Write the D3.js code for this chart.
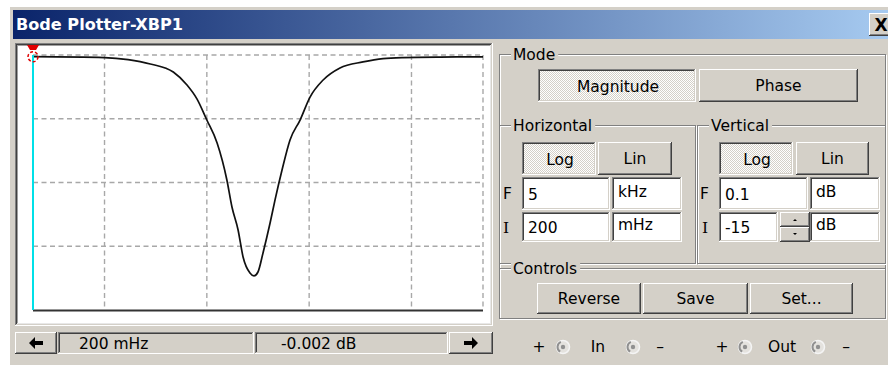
<!DOCTYPE html>
<html>
<head>
<meta charset="utf-8">
<script src="https://cdn.jsdelivr.net/npm/d3@7"></script>
<style>
  body { margin: 0; background: #fff; }
  svg text { font-family: "DejaVu Sans", sans-serif; font-size: 15.5px; fill: #000; }
</style>
</head>
<body>
<svg id="win"></svg>
<script>
var width = 888, height = 365

// magnitude response (frequency in Hz, gain in dB)
var freqHz = [0.2, 1, 1.7, 2.8, 4.7, 6.4, 8.0, 10, 12.6, 15.7, 17.6, 20.2, 22.6, 26.4, 28.9,
    31.6, 35.4, 41.5, 46.4, 54.3, 65, 81.5, 102, 137, 200, 336, 527, 828, 1905, 5000]
var magDb = [-0.002, -0.05, -0.17, -0.43, -0.91, -1.68, -2.5, -3.75, -5.11, -7.3, -8.9, -10.26, -11.86, -12.81, -12.98,
    -12.75, -11.62, -9.85, -8.48, -6.71, -4.93, -3.75, -2.39, -1.38, -0.67, -0.31, -0.11, -0.05, -0.02, -0.01]

// instrument settings shown on the panel
var hStart = 0.2, hEnd = 5000      // I = 200 mHz, F = 5 kHz
var vStart = -15, vEnd = 0.1       // I = -15 dB, F = 0.1 dB
var gridFreqs = [1, 10, 100, 1000]
var vDivs = 4
var cursorText = ["200 mHz", "-0.002 dB"]

var gray = "#d4d0c8"

var svg = d3.select("#win")
    .attr("width", width)
    .attr("height", height)

var defs = svg.append("defs")
var grad = defs.append("linearGradient").attr("id", "title")
grad.append("stop").attr("offset", "0%").attr("stop-color", "#0a246a")
grad.append("stop").attr("offset", "100%").attr("stop-color", "#a6caf0")
var pat = defs.append("pattern").attr("id", "dither")
    .attr("width", 2).attr("height", 2).attr("patternUnits", "userSpaceOnUse")
pat.append("rect").attr("width", 2).attr("height", 2).attr("fill", "#fff")
pat.append("rect").attr("width", 1).attr("height", 1).attr("fill", gray)
pat.append("rect").attr("x", 1).attr("y", 1).attr("width", 1).attr("height", 1).attr("fill", gray)

// window body + title bar
svg.append("rect").attr("x", 10).attr("y", 7).attr("width", width - 10).attr("height", height - 7).attr("fill", gray)
svg.append("rect").attr("x", 13).attr("y", 10).attr("width", width - 13).attr("height", 29).attr("fill", "url(#title)")
svg.append("text").attr("x", 16).attr("y", 25).attr("dominant-baseline", "central")
    .style("font-weight", "bold").style("font-size", "15.5px").style("fill", "#fff")
    .attr("textLength", 167).attr("lengthAdjust", "spacingAndGlyphs")
    .text("Bode Plotter-XBP1")

function edge(g, x, y, w, h, tl, br) {
    g.append("rect").attr("x", x).attr("y", y).attr("width", w).attr("height", 1).attr("fill", tl)
    g.append("rect").attr("x", x).attr("y", y).attr("width", 1).attr("height", h).attr("fill", tl)
    g.append("rect").attr("x", x).attr("y", y + h - 1).attr("width", w).attr("height", 1).attr("fill", br)
    g.append("rect").attr("x", x + w - 1).attr("y", y).attr("width", 1).attr("height", h).attr("fill", br)
}
function raised(x, y, w, h, fill) {
    var g = svg.append("g")
    g.append("rect").attr("x", x).attr("y", y).attr("width", w).attr("height", h).attr("fill", fill || gray)
    edge(g, x, y, w, h, "#fff", "#404040")
    edge(g, x + 1, y + 1, w - 2, h - 2, gray, "#808080")
    return g
}
function sunken(x, y, w, h, fill) {
    var g = svg.append("g")
    g.append("rect").attr("x", x).attr("y", y).attr("width", w).attr("height", h).attr("fill", fill || gray)
    edge(g, x, y, w, h, "#808080", "#fff")
    edge(g, x + 1, y + 1, w - 2, h - 2, "#404040", gray)
    return g
}
function button(x, y, w, h, label, pressed) {
    var g = pressed ? sunken(x, y, w, h, "url(#dither)") : raised(x, y, w, h)
    g.append("text").attr("x", x + w / 2 + (pressed ? 1 : 0)).attr("y", y + h / 2 + (pressed ? 1 : 0))
        .attr("text-anchor", "middle").attr("dominant-baseline", "central").text(label)
}
function field(x, y, w, h, label, dy) {
    var g = sunken(x, y, w, h, "#fff")
    g.append("text").attr("x", x + 6).attr("y", y + h / 2 + (dy || 0))
        .attr("dominant-baseline", "central").text(label)
}
function groupBox(x, y, w, h, label) {
    var g = svg.append("g")
    g.append("rect").attr("x", x + 1.5).attr("y", y + 1.5).attr("width", w).attr("height", h)
        .attr("fill", "none").attr("stroke", "#fff")
    g.append("rect").attr("x", x + 0.5).attr("y", y + 0.5).attr("width", w).attr("height", h)
        .attr("fill", "none").attr("stroke", "#808080")
    var bg = g.append("rect").attr("fill", gray)
    var t = g.append("text").attr("x", x + 14).attr("y", y + 1).attr("dominant-baseline", "central").text(label)
    var bb = t.node().getBBox()
    bg.attr("x", bb.x - 2).attr("y", bb.y).attr("width", bb.width + 5).attr("height", bb.height)
}

// ---- plot panel ----
var frame = sunken(15, 43, 478, 283, "#fff")
edge(frame, 17, 45, 474, 279, "#a0a0a0", "#e8e8e8")

var x = d3.scaleLog().domain([hStart, hEnd]).range([33, 483])
var y = d3.scaleLinear().domain([vStart, vEnd]).range([310, 55])

var plot = svg.append("g")
var dash = "5,3.5"
plot.selectAll(".vgrid")
    .data(gridFreqs.concat([hEnd]))
    .enter()
    .append("line")
        .attr("class", "vgrid")
        .attr("x1", d => x(d)).attr("x2", d => x(d))
        .attr("y1", y(vEnd)).attr("y2", y(vStart))
        .attr("stroke", "#a8a8a8").attr("stroke-width", 1.4).attr("stroke-dasharray", dash)
plot.selectAll(".hgrid")
    .data(d3.range(1, vDivs + 1).map(i => vStart + i * (vEnd - vStart) / vDivs))
    .enter()
    .append("line")
        .attr("class", "hgrid")
        .attr("x1", x(hStart)).attr("x2", x(hEnd))
        .attr("y1", d => y(d)).attr("y2", d => y(d))
        .attr("stroke", "#a8a8a8").attr("stroke-width", 1.4).attr("stroke-dasharray", dash)
plot.append("line")
    .attr("x1", x(hStart)).attr("x2", x(hEnd))
    .attr("y1", y(vStart) + 0.5).attr("y2", y(vStart) + 0.5)
    .attr("stroke", "#333").attr("stroke-width", 2)

var line = d3.line()
    .x((d, i) => x(freqHz[i]))
    .y(d => y(d))
    .curve(d3.curveMonotoneX)
plot.append("path")
    .datum(magDb)
    .attr("d", line)
    .attr("fill", "none")
    .attr("stroke", "#111")
    .attr("stroke-width", 1.7)

// cursor
var cx = x(hStart)
plot.append("line")
    .attr("x1", cx).attr("x2", cx).attr("y1", y(vEnd)).attr("y2", y(vStart))
    .attr("stroke", "#00e0e8").attr("stroke-width", 2)
plot.append("path")
    .attr("d", "M" + (cx - 6) + ",45 L" + (cx + 6) + ",45 L" + (cx + 3) + ",50 L" + (cx - 3) + ",50 Z")
    .attr("fill", "#e00000")
plot.append("circle")
    .attr("cx", cx).attr("cy", y(magDb[0]))
    .attr("r", 5)
    .attr("fill", "none").attr("stroke", "#e00000").attr("stroke-width", 1.5).attr("stroke-dasharray", "3,2")

// ---- cursor readout ----
var lb = raised(15, 332, 42, 22)
lb.append("path").attr("d", "M29,343 l6,-6 v4 h8 v4 h-8 v4 Z").attr("fill", "#000")
sunken(58, 332, 196, 22)
svg.append("text").attr("x", 79).attr("y", 344).attr("dominant-baseline", "central").text(cursorText[0])
sunken(255, 332, 193, 22)
svg.append("text").attr("x", 281).attr("y", 344).attr("dominant-baseline", "central").text(cursorText[1])
var rb = raised(449, 332, 44, 22)
rb.append("path").attr("d", "M478,343 l-6,-6 v4 h-8 v4 h8 v4 Z").attr("fill", "#000")

// ---- right panel ----
groupBox(499, 54, 386, 264, "Mode")
groupBox(499, 125, 196, 138, "Horizontal")
groupBox(697, 125, 188, 138, "Vertical")
groupBox(499, 268, 386, 50, "Controls")

button(538, 69, 158, 33, "Magnitude", true)
button(699, 69, 159, 33, "Phase", false)

button(522, 142, 74, 33, "Log", true)
button(598, 142, 74, 33, "Lin", false)
button(719, 142, 74, 33, "Log", true)
button(796, 142, 73, 33, "Lin", false)

svg.append("text").attr("x", 503).attr("y", 194).attr("dominant-baseline", "central").text("F")
svg.append("text").attr("x", 503).attr("y", 228).attr("dominant-baseline", "central")
    .style("font-family", "'DejaVu Serif', serif").text("I")
svg.append("text").attr("x", 700).attr("y", 194).attr("dominant-baseline", "central").text("F")
svg.append("text").attr("x", 702).attr("y", 228).attr("dominant-baseline", "central")
    .style("font-family", "'DejaVu Serif', serif").text("I")

field(522, 177, 88, 33, "5", 1)
field(612, 177, 70, 33, "kHz", -2)
field(522, 212, 88, 30, "200", 1)
field(612, 212, 70, 30, "mHz", -2)
field(719, 177, 89, 33, "0.1", 1)
field(810, 177, 70, 33, "dB", -2)
field(719, 212, 59, 30, "-15", 1)
field(810, 212, 70, 30, "dB", -2)
var up = raised(780, 212, 30, 15)
up.append("path").attr("d", "M793,221 h4 l-2,-2 Z").attr("fill", "#000")
var dn = raised(780, 227, 30, 15)
dn.append("path").attr("d", "M793,233 h4 l-2,2 Z").attr("fill", "#000")

button(537, 283, 104, 31, "Reverse", false)
button(643, 283, 105, 31, "Save", false)
button(750, 283, 103, 31, "Set...", false)

// ---- terminals ----
function terminal(cxp) {
    svg.append("circle").attr("cx", cxp).attr("cy", 347).attr("r", 6.5)
        .attr("fill", "#e4e2de").attr("stroke", "#f4f4f4").attr("stroke-width", 1.5)
    svg.append("path")
        .attr("d", d3.arc()({ innerRadius: 4.5, outerRadius: 6.5, startAngle: -2.6, endAngle: -0.4 }))
        .attr("transform", "translate(" + cxp + ",347)").attr("fill", "#909090")
    svg.append("circle").attr("cx", cxp).attr("cy", 347).attr("r", 2.2).attr("fill", "#909090")
}
var termLabels = [
    { t: "+", x: 539 }, { t: "In", x: 598 }, { t: "–", x: 660 },
    { t: "+", x: 722 }, { t: "Out", x: 782 }, { t: "–", x: 846 }
]
svg.selectAll(".term")
    .data(termLabels)
    .enter()
    .append("text")
        .attr("class", "term")
        .attr("x", d => d.x).attr("y", 347)
        .attr("text-anchor", "middle").attr("dominant-baseline", "central")
        .text(d => d.t)
;[563, 633, 745, 818].forEach(terminal)

// close box
var cb = raised(869, 13, 24, 23)
cb.append("text").attr("x", 881).attr("y", 25).attr("text-anchor", "middle").attr("dominant-baseline", "central")
    .style("font-weight", "bold").style("font-size", "17px").text("X")
</script>
</body>
</html>
